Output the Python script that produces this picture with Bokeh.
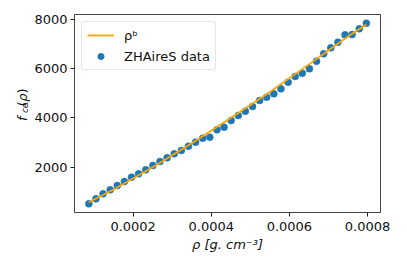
import math
from bokeh.plotting import figure
from bokeh.layouts import row
from bokeh.core.properties import value
from bokeh.models import (Range1d, FixedTicker, PrintfTickFormatter, Legend,
                          LegendItem)
from bokeh.embed import file_html
from bokeh.resources import INLINE

# ZHAireS data points: rho [g/cm^3] and f_ce(rho)
rho = [8.65e-5, 10.47e-5, 12.29e-5, 14.12e-5, 15.94e-5, 17.76e-5, 19.58e-5,
       21.40e-5, 23.23e-5, 25.05e-5, 26.87e-5, 28.69e-5, 30.51e-5, 32.34e-5,
       34.16e-5, 35.98e-5, 37.80e-5, 39.62e-5, 41.45e-5, 43.27e-5, 45.09e-5,
       46.91e-5, 48.73e-5, 50.56e-5, 52.38e-5, 54.20e-5, 56.02e-5, 57.84e-5,
       59.67e-5, 61.49e-5, 63.31e-5, 65.13e-5, 66.95e-5, 68.78e-5, 70.60e-5,
       72.42e-5, 74.24e-5, 76.06e-5, 77.89e-5, 79.71e-5]
fce = [510, 713, 916, 1079, 1255, 1418, 1594, 1729, 1892, 2068,
       2230, 2379, 2542, 2677, 2853, 3016, 3178, 3219, 3517, 3625,
       3896, 4099, 4275, 4465, 4709, 4844, 4980, 5183, 5454, 5684,
       5819, 5995, 6307, 6605, 6849, 7079, 7377, 7390, 7621, 7851]

# rho^b fit curve
fit_rho = [8.65e-5, 15.0e-5, 25.0e-5, 35.0e-5, 45.0e-5, 55.0e-5,
           65.0e-5, 75.0e-5, 79.71e-5]
fit_fce = [572, 1095, 2000, 2974, 3995, 5050, 6176, 7311, 7800]

x_ticks = [0.0002, 0.0004, 0.0006, 0.0008]
y_ticks = [2000, 4000, 6000, 8000]

# y axis title pieces: f_ce(rho)
ylab_text = ["f", "ce", "(", "ρ", ")"]

FONT = "DejaVu Sans"
X0, X1 = 4.98e-5, 8.333e-4
Y0, Y1 = 158, 8203
H = 262
LW = 30

p = figure(frame_width=306, frame_height=198,
           min_border_left=74 - LW, min_border_right=20,
           min_border_top=14, min_border_bottom=H - 14 - 198,
           x_range=Range1d(X0, X1), y_range=Range1d(Y0, Y1),
           output_backend="svg", toolbar_location=None)

p.xgrid.visible = False
p.ygrid.visible = False
p.outline_line_color = "#444444"
p.outline_line_width = 1
p.outline_line_alpha = 1

for ax in (p.xaxis[0], p.yaxis[0]):
    ax.axis_line_color = None
    ax.major_tick_out = 4
    ax.major_tick_in = 0
    ax.minor_tick_out = 0
    ax.minor_tick_in = 0
    ax.major_tick_line_color = "#222222"
    ax.major_label_text_font = FONT
    ax.major_label_text_font_size = "13px"
    ax.major_label_text_color = "#111111"

p.xaxis.ticker = FixedTicker(ticks=x_ticks)
p.xaxis.formatter = PrintfTickFormatter(format="%.4f")
p.xaxis.major_label_standoff = 5
p.xaxis.axis_label = "ρ [g. cm⁻³]"
p.xaxis.axis_label_text_font = FONT
p.xaxis.axis_label_text_font_size = "13px"
p.xaxis.axis_label_text_font_style = "italic"
p.xaxis.axis_label_text_color = "#111111"
p.xaxis.axis_label_standoff = 3

p.yaxis.ticker = FixedTicker(ticks=y_ticks)
p.yaxis.major_label_standoff = 3

sc_r = p.scatter(rho, fce, size=7, line_width=0.5,
                 fill_color="#1f77b4", line_color="#1f77b4")
line_r = p.line(fit_rho, fit_fce, line_color="orange", line_width=1.8)

legend = Legend(items=[LegendItem(label="ρᵇ", renderers=[line_r]),
                       LegendItem(label="ZHAireS data", renderers=[sc_r])],
                location="top_left")
legend.label_text_font = FONT
legend.label_text_font_size = "13px"
legend.label_text_color = "#111111"
legend.border_line_color = "#cccccc"
legend.border_line_width = 1
legend.background_fill_color = "white"
legend.background_fill_alpha = 0.8
legend.margin = 7
legend.padding = 5
legend.spacing = 5
legend.glyph_width = 27
legend.glyph_height = 16
legend.label_height = 16
legend.label_standoff = 10
if "border_radius" in Legend.properties():
    legend.border_radius = 3
p.add_layout(legend)

# narrow strip on the left holding the rotated y axis title
q = figure(width=LW, height=H, x_range=Range1d(0, LW), y_range=Range1d(0, H),
           x_axis_type=None, y_axis_type=None, min_border=0,
           output_backend="svg", toolbar_location=None)
q.xgrid.visible = False
q.ygrid.visible = False
q.outline_line_color = None

# pixel positions on the page (x from left, y from top)
lab_px = [22.0, 24.5, 22.0, 22.0, 22.0]
lab_py = [141.0, 130.5, 121.5, 115.5, 104.5]
lab_size = ["13px", "9px", "13px", "13px", "13px"]
lab_style = ["italic", "italic", "normal", "italic", "normal"]
for txt, px, py, fs, st in zip(ylab_text, lab_px, lab_py, lab_size, lab_style):
    q.text(x=[px], y=[H - py], text=[txt], angle=math.pi / 2,
           text_font=value(FONT), text_font_size=value(fs),
           text_font_style=st, text_color="#111111",
           text_align="left", text_baseline="alphabetic")

layout = row(q, p)
open("out.html", "w").write(file_html(layout, INLINE))
